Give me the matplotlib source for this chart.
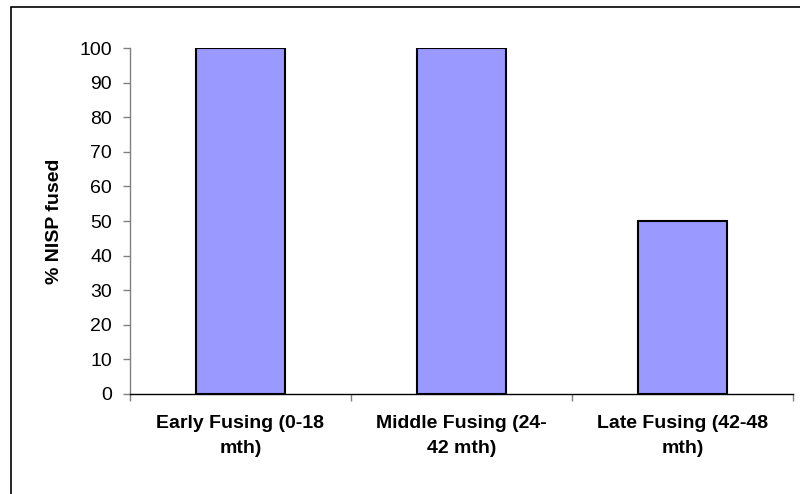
import matplotlib
matplotlib.use("Agg")
import matplotlib.pyplot as plt
from matplotlib.patches import Rectangle
import numpy as np

categories = ["Early Fusing (0-18\nmth)", "Middle Fusing (24-\n42 mth)", "Late Fusing (42-48\nmth)"]
values = [100, 100, 50]
yticks = [0, 10, 20, 30, 40, 50, 60, 70, 80, 90, 100]

plt.rcParams['font.family'] = ['Liberation Sans', 'DejaVu Sans']

fig = plt.figure(figsize=(8, 4.94), dpi=100)
ax = fig.add_axes([130/800, 1-394/494, (793-130)/800, (394-48)/494])

x = np.arange(len(categories))
ax.bar(x, values, width=0.4, color="#9999FF", edgecolor="black", linewidth=1.5, zorder=3)

ax.set_xlim(-0.5, len(categories)-0.5)
ax.set_ylim(0, 100)
ax.set_yticks(yticks)
ax.set_yticklabels([str(v) for v in yticks], fontsize=14)
ax.set_xticks(x)
ax.set_xticklabels(categories, fontsize=14, fontweight="bold", linespacing=1.65)
ax.set_xticks(np.arange(-0.5, len(categories)), minor=True)
ax.tick_params(axis="x", which="major", length=0, pad=15)
ax.tick_params(axis="x", which="minor", length=5, width=1, color="#808080", direction="out")
ax.tick_params(axis="y", length=5, width=1, color="#808080", direction="out", pad=8)
for s in ["top", "right"]:
    ax.spines[s].set_visible(False)
ax.spines["left"].set_color("#808080")
ax.spines["bottom"].set_color("#000000")
ax.spines["left"].set_linewidth(1)
ax.spines["bottom"].set_linewidth(1)

ax.set_ylabel("% NISP fused", fontsize=14, fontweight="bold", labelpad=12)

fig.patches.append(Rectangle((10.5/800, -0.05), 1.0, (494-7.5)/494 + 0.05,
                             transform=fig.transFigure, fill=False,
                             edgecolor="black", linewidth=1.2))

fig.savefig("out.png", dpi=100)
